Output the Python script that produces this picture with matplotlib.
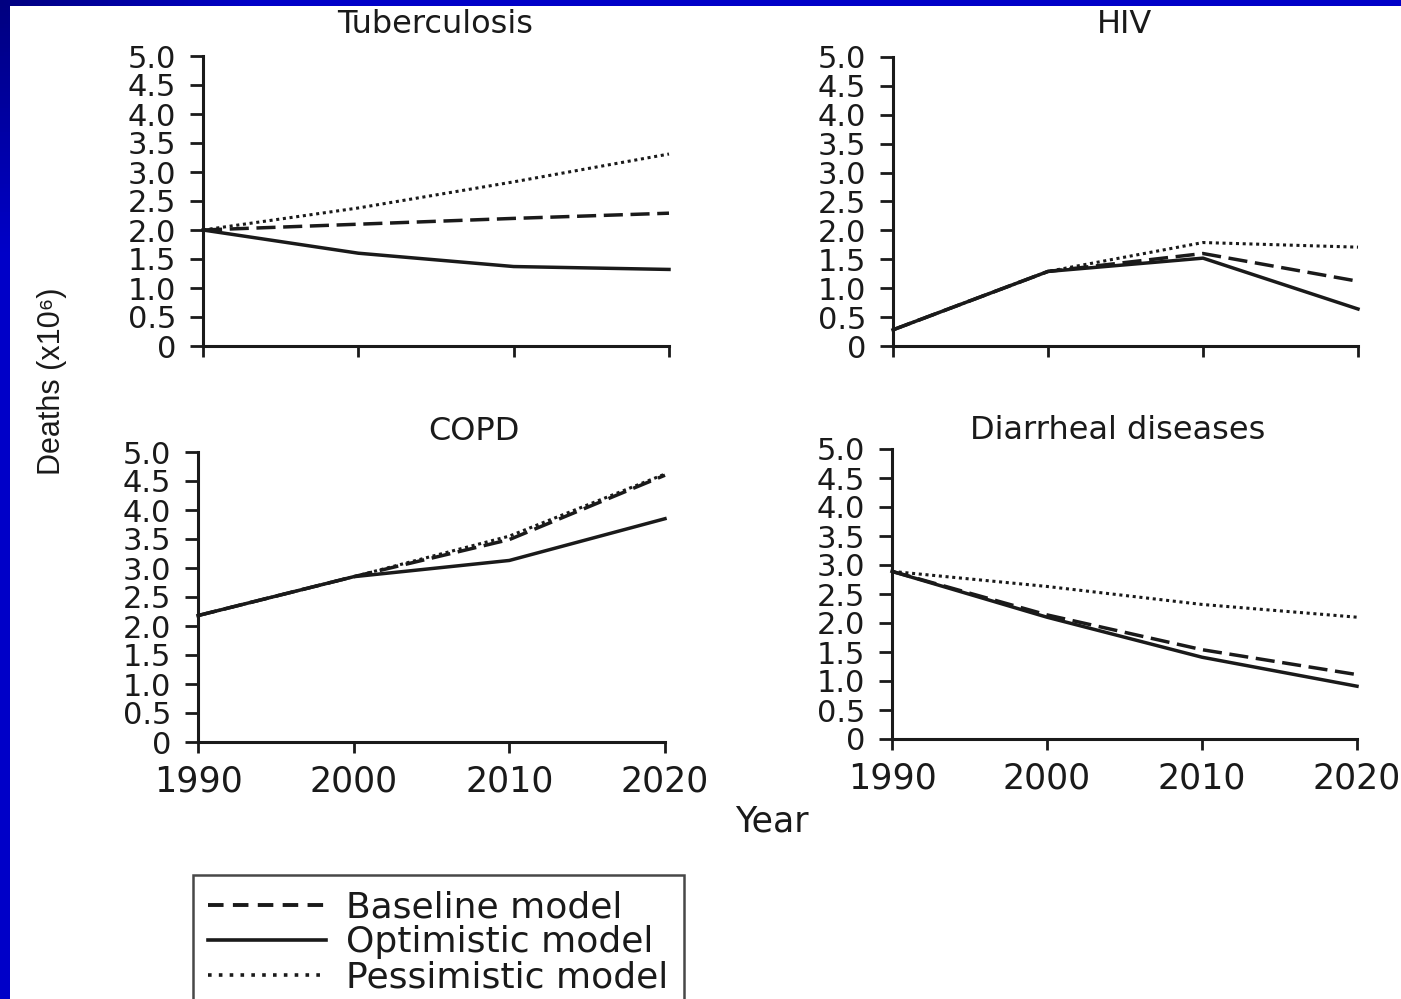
import numpy as np
import matplotlib
matplotlib.use('Agg')
import matplotlib.pyplot as plt
from matplotlib.lines import Line2D
from matplotlib.patches import Rectangle

W, H = 1401, 999

years = [1990, 2000, 2010, 2020]
ytick_vals = [0, 0.5, 1.0, 1.5, 2.0, 2.5, 3.0, 3.5, 4.0, 4.5, 5.0]
ytick_labels = ['0', '0.5', '1.0', '1.5', '2.0', '2.5', '3.0', '3.5', '4.0', '4.5', '5.0']

titles = ['Tuberculosis', 'HIV', 'COPD', 'Diarrheal diseases']
model_names = ['Baseline model', 'Optimistic model', 'Pessimistic model']

tb_baseline = [2.0, 2.1, 2.2, 2.29]
tb_optimistic = [2.0, 1.6, 1.37, 1.32]
tb_pessimistic = [2.0, 2.38, 2.83, 3.31]

hiv_baseline = [0.28, 1.29, 1.6, 1.12]
hiv_optimistic = [0.28, 1.29, 1.52, 0.64]
hiv_pessimistic = [0.28, 1.29, 1.79, 1.71]

copd_baseline = [2.18, 2.85, 3.49, 4.6]
copd_optimistic = [2.18, 2.85, 3.13, 3.85]
copd_pessimistic = [2.18, 2.85, 3.55, 4.62]

diar_baseline = [2.89, 2.14, 1.54, 1.11]
diar_optimistic = [2.89, 2.1, 1.41, 0.91]
diar_pessimistic = [2.89, 2.63, 2.32, 2.1]

panel_data = [
    (tb_baseline, tb_optimistic, tb_pessimistic),
    (hiv_baseline, hiv_optimistic, hiv_pessimistic),
    (copd_baseline, copd_optimistic, copd_pessimistic),
    (diar_baseline, diar_optimistic, diar_pessimistic),
]

plt.rcParams['font.family'] = ['DejaVu Sans']
ink = '#1a1a1a'

fig = plt.figure(figsize=(W / 100, H / 100), dpi=100)

# blue slide frame (top and left edge)
bg = fig.add_axes([0, 0, 1, 1], zorder=-10)
yy, xx = np.mgrid[0:H:4, 0:W:4]
t = np.clip(np.hypot(xx, yy) / 250.0, 0, 1)
grad = np.zeros(xx.shape + (3,))
grad[..., 2] = (0x80 + (0xC8 - 0x80) * t) / 255.0
bg.imshow(grad, extent=[0, W, H, 0], aspect='auto')
bg.add_patch(Rectangle((10, 6), W, H, facecolor='white', edgecolor='none'))
bg.set_xlim(0, W)
bg.set_ylim(H, 0)
bg.axis('off')


def px_axes(l, t_, r, b):
    return fig.add_axes([l / W, 1 - b / H, (r - l) / W, (b - t_) / H])


boxes = [(203, 56, 669, 346), (893, 57, 1358, 346),
         (198, 452, 665, 742), (892, 449, 1357, 739)]
title_pos = [(435, 33), (1125, 33), (474, 440), (1118, 439)]

for i, (box, title, data) in enumerate(zip(boxes, titles, panel_data)):
    ax = px_axes(*box)
    base, opt, pess = data
    ax.plot(years, pess, color=ink, lw=2.2, dashes=(1.0, 1.2), clip_on=False)
    ax.plot(years, base, color=ink, lw=2.5, dashes=(5.5, 2.2), clip_on=False)
    ax.plot(years, opt, color=ink, lw=2.5, clip_on=False)
    ax.set_xlim(1990, 2020)
    ax.set_ylim(0, 5)
    ax.set_facecolor('none')
    for s in ['top', 'right']:
        ax.spines[s].set_visible(False)
    for s in ['left', 'bottom']:
        ax.spines[s].set_linewidth(2.2)
        ax.spines[s].set_color(ink)
    ax.set_yticks(ytick_vals)
    ax.set_yticklabels(ytick_labels)
    ax.set_xticks(years)
    if i < 2:
        ax.set_xticklabels([])
    else:
        ax.set_xticklabels([str(y) for y in years])
    ax.tick_params(axis='y', length=9.5, width=2, pad=10, labelsize=22,
                   colors=ink)
    ax.tick_params(axis='x', length=8, width=2, pad=8, labelsize=25,
                   colors=ink)
    fig.text(title_pos[i][0] / W, 1 - title_pos[i][1] / H, title,
             ha='center', va='baseline', fontsize=23, color=ink)

fig.text(772 / W, 1 - 832 / H, 'Year', ha='center', va='baseline',
         fontsize=25, color=ink)

fig.text(52 / W, 1 - 381 / H, 'Deaths (x10\u2076)', rotation=90,
         ha='center', va='center', fontsize=22,
         family=['Liberation Sans', 'DejaVu Sans'], color=ink)

handles = [
    Line2D([], [], color=ink, lw=2.8, dashes=(4.0, 2.4)),
    Line2D([], [], color=ink, lw=2.6),
    Line2D([], [], color=ink, lw=2.6, dashes=(1.0, 2.0)),
]
leg = fig.legend(handles, model_names, loc='upper left',
                 bbox_to_anchor=(193 / W, 1 - 875 / H), fontsize=26,
                 frameon=True, fancybox=False, borderpad=0.42,
                 handlelength=3.25, handletextpad=0.58, labelspacing=0.03,
                 borderaxespad=0)
leg.get_frame().set_edgecolor(ink)
leg.get_frame().set_linewidth(1.8)
for txt in leg.get_texts():
    txt.set_color(ink)

fig.savefig('out.png', dpi=100)
